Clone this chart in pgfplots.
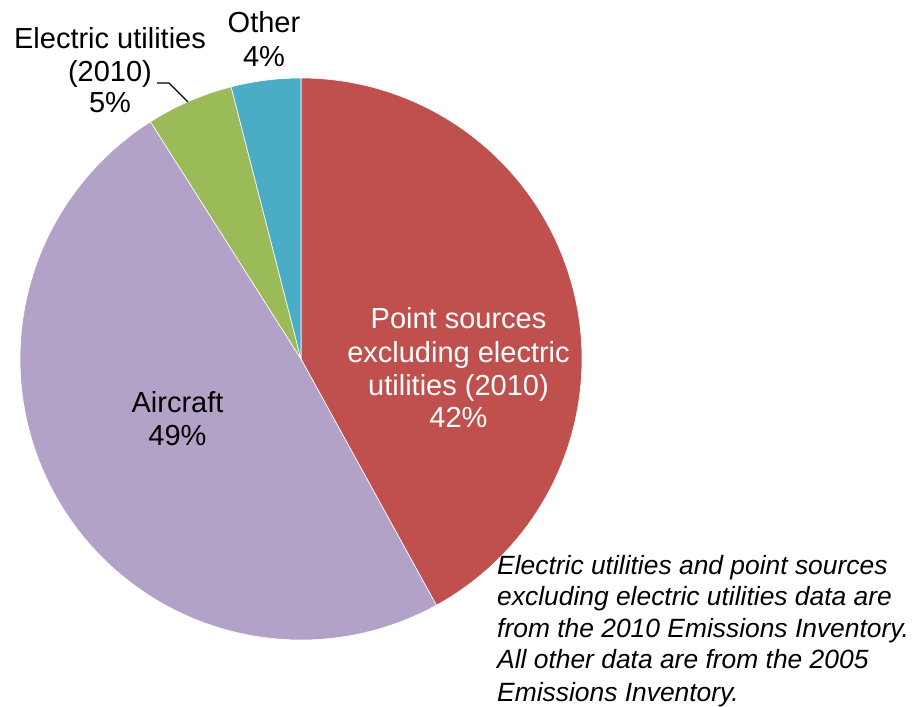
\documentclass[border=0pt]{standalone}
\usepackage{fontspec}
\setmainfont{Liberation Sans}
\usepackage{pgfplots}
\pgfplotsset{compat=1.18}
\definecolor{pieRed}{HTML}{C0504D}
\definecolor{piePurple}{HTML}{B3A2C7}
\definecolor{pieGreen}{HTML}{9BBB59}
\definecolor{pieBlue}{HTML}{4BACC6}
% shares (percent), clockwise from 12 o'clock
\def\vA{42}% Point sources excluding electric utilities (2010)
\def\vB{49}% Aircraft
\def\vC{5}%  Electric utilities (2010)
\def\vD{4}%  Other
\pgfmathsetmacro\aA{90}
\pgfmathsetmacro\aB{\aA-3.6*\vA}
\pgfmathsetmacro\aC{\aB-3.6*\vB}
\pgfmathsetmacro\aD{\aC-3.6*\vC}
\pgfmathsetmacro\aE{\aD-3.6*\vD}
\newcommand{\lbl}{\fontsize{29bp}{33bp}\selectfont}
\newcommand{\note}{\fontsize{26.4bp}{31bp}\selectfont\itshape}
\begin{document}
\begin{tikzpicture}
\begin{axis}[width=922bp, height=706bp, scale only axis,
  xmin=0, xmax=922, ymin=0, ymax=706, hide axis, clip=false]
\path (axis cs:0,0) rectangle (axis cs:922,706);
\addplot[fill=pieRed, draw=white, line width=0.6bp, domain=\aB:\aA, samples=120, variable=\t]
  ({301+281*cos(\t)},{347+281*sin(\t)}) -- (axis cs:301,347) -- cycle;
\addplot[fill=piePurple, draw=white, line width=0.6bp, domain=\aC:\aB, samples=120, variable=\t]
  ({301+281*cos(\t)},{347+281*sin(\t)}) -- (axis cs:301,347) -- cycle;
\addplot[fill=pieGreen, draw=white, line width=0.6bp, domain=\aD:\aC, samples=30, variable=\t]
  ({301+281*cos(\t)},{347+281*sin(\t)}) -- (axis cs:301,347) -- cycle;
\addplot[fill=pieBlue, draw=white, line width=0.6bp, domain=\aE:\aD, samples=30, variable=\t]
  ({301+281*cos(\t)},{347+281*sin(\t)}) -- (axis cs:301,347) -- cycle;
% leader line
\draw[black, line width=1.3bp] (axis cs:157,623) -- (axis cs:169,623) -- (axis cs:188,604);
% labels inside
\node[anchor=base, inner sep=0, text=white, font=\lbl] at (axis cs:458.5,377) {Point sources};
\node[anchor=base, inner sep=0, text=white, font=\lbl] at (axis cs:458.5,343.5) {excluding electric};
\node[anchor=base, inner sep=0, text=white, font=\lbl] at (axis cs:458.5,310) {utilities (2010)};
\node[anchor=base, inner sep=0, text=white, font=\lbl] at (axis cs:458.5,278) {42\%};
\node[anchor=base, inner sep=0, font=\lbl] at (axis cs:177.5,293) {Aircraft};
\node[anchor=base, inner sep=0, font=\lbl] at (axis cs:177.5,260) {49\%};
% labels outside
\node[anchor=base, inner sep=0, font=\lbl] at (axis cs:110,657) {Electric utilities};
\node[anchor=base, inner sep=0, font=\lbl] at (axis cs:110,624) {(2010)};
\node[anchor=base, inner sep=0, font=\lbl] at (axis cs:110,593) {5\%};
\node[anchor=base, inner sep=0, font=\lbl] at (axis cs:264,673) {Other};
\node[anchor=base, inner sep=0, font=\lbl] at (axis cs:264,639) {4\%};
% note
\node[anchor=base west, inner sep=0, font=\note] at (axis cs:497,131) {Electric utilities and point sources};
\node[anchor=base west, inner sep=0, font=\note] at (axis cs:497,100) {excluding electric utilities data are};
\node[anchor=base west, inner sep=0, font=\note] at (axis cs:497,69) {from the 2010 Emissions Inventory.};
\node[anchor=base west, inner sep=0, font=\note] at (axis cs:497,38) {All other data are from the 2005};
\node[anchor=base west, inner sep=0, font=\note] at (axis cs:497,5) {Emissions Inventory.};
\end{axis}
\end{tikzpicture}
\end{document}
